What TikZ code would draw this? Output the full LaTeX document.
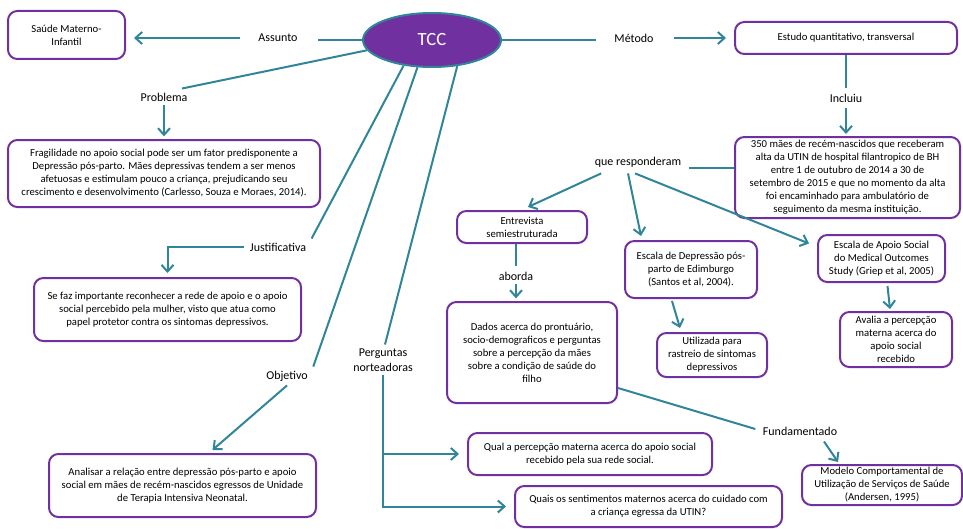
\documentclass[tikz,border=0pt]{standalone}
\usepackage{fontspec}
\setmainfont{Carlito}
\usetikzlibrary{arrows.meta,calc,shapes.geometric}
\definecolor{teal5}{RGB}{49,133,155}
\definecolor{purp}{RGB}{112,48,160}
\begin{document}
\begin{tikzpicture}[x=0.75pt,y=-0.75pt,
  box/.style={draw=purp, line width=1.5pt, rounded corners=7pt, fill=white, align=center, inner sep=0pt, font=\fontsize{8}{9.75}\selectfont},
  wh/.style 2 args={minimum width=#1*0.75pt, minimum height=#2*0.75pt},
  lbl/.style={align=center, inner xsep=4pt, inner ysep=3pt, font=\fontsize{9}{11}\selectfont},
  conn/.style={draw=teal5, line width=1.5pt},
  arr/.style={conn, -{Straight Barb[length=5pt,width=9pt]}},
]
\useasboundingbox (0,0) rectangle (963,528);

% centre
\node[ellipse, fill=purp, draw=teal5, line width=1.5pt, minimum width=138*0.75pt, minimum height=54*0.75pt, text=white, font=\fontsize{14}{16}\selectfont] (tcc) at (432,40) {TCC};

% boxes
\node[box, wh={117}{48}] (saude) at (66.5,35) {Saúde Materno-\\Infantil};
\node[box, wh={222}{32}] (estudo) at (846,38) {Estudo quantitativo, transversal};
\node[box, wh={225}{81}] (maes) at (847.5,177.5) {350 mães de recém-nascidos que receberam\\alta da UTIN de hospital filantropico de BH\\entre 1 de outubro de 2014 a 30 de\\setembro de 2015 e que no momento da alta\\foi encaminhado para ambulatório de\\seguimento da mesma instituição.};
\node[box, wh={312}{67}] (frag) at (164,173.5) {Fragilidade no apoio social pode ser um fator predisponente a\\Depressão pós-parto. Mães depressivas tendem a ser menos\\afetuosas e estimulam pouco a criança, prejudicando seu\\crescimento e desenvolvimento (Carlesso, Souza e Moraes, 2014).};
\node[box, wh={267}{63}] (sefaz) at (167.5,309.5) {Se faz importante reconhecer a rede de apoio e o apoio\\social percebido pela mulher, visto que atua como\\papel protetor contra os sintomas depressivos.};
\node[box, wh={267}{63}] (analisar) at (182.5,485.5) {Analisar a relação entre depressão pós-parto e apoio\\social em mães de recém-nascidos egressos de Unidade\\de Terapia Intensiva Neonatal.};
\node[box, wh={130}{32}] (entrevista) at (522,227) {Entrevista\\semiestruturada};
\node[box, wh={170}{101}] (dados) at (532,352.5) {Dados acerca do prontuário,\\socio-demograficos e perguntas\\sobre a percepção da mães\\sobre a condição de saúde do\\filho};
\node[box, wh={132}{57}] (escdep) at (691,269.5) {Escala de Depressão pós-\\parto de Edimburgo\\(Santos et al, 2004).};
\node[box, wh={110}{44}] (utiliz) at (712,355) {Utilizada para\\rastreio de sintomas\\depressivos};
\node[box, wh={127}{47}] (escapoio) at (881.5,258.5) {Escala de Apoio Social\\do Medical Outcomes\\Study (Griep et al, 2005)};
\node[box, wh={112}{55}] (avalia) at (896,339.5) {Avalia a percepção\\materna acerca do\\apoio social\\recebido};
\node[box, wh={244}{42}] (qual) at (590,454) {Qual a percepção materna acerca do apoio social\\recebido pela sua rede social.};
\node[box, wh={267}{41}] (quais) at (648.5,506.5) {Quais os sentimentos maternos acerca do cuidado com\\a criança egressa da UTIN?};
\node[box, wh={160}{40}] (modelo) at (882,485) {Modelo Comportamental de\\Utilização de Serviços de Saúde\\(Andersen, 1995)};

% labels
\node[lbl] (assunto) at (278,38) {Assunto};
\node[lbl] (metodo) at (634,38) {Método};
\node[lbl] (incluiu) at (846,98) {Incluiu};
\node[lbl] (resp) at (638,162) {que responderam};
\node[lbl] (problema) at (164,97) {Problema};
\node[lbl] (justif) at (278,247) {Justificativa};
\node[lbl] (objetivo) at (287,376) {Objetivo};
\node[lbl] (perg) at (383,360) {Perguntas\\norteadoras};
\node[lbl] (aborda) at (516,276) {aborda};
\node[lbl] (fund) at (800,431) {Fundamentado};

% connectors
\draw[conn, shorten >=11pt] (tcc.west) -- (tcc.west -| assunto.east);
\draw[arr, shorten <=10pt, shorten >=6pt] (assunto.west) -- (assunto.west -| saude.east);
\draw[conn, shorten >=10pt] (tcc.east) -- (tcc.east -| metodo.west);
\draw[arr, shorten <=11pt, shorten >=6pt] (metodo.east) -- (metodo.east -| estudo.west);
\draw[conn, shorten >=1.5pt] (estudo.south) -- (incluiu.north);
\draw[arr, shorten <=1.5pt, shorten >=1.5pt] (incluiu.south) -- (incluiu.south |- maes.north);
\draw[conn] ($(resp.east)+(2,6)$) -- ($(resp.east -| maes.west)+(0,6)$);
\draw[arr] ($(resp.south west)+(12,2)$) -- ($(entrevista.north)+(6,-3)$);
\draw[arr] ($(resp.south)+(-10,2)$) -- ($(escdep.north)+(-50,-4)$);
\draw[arr] ($(resp.south)+(-3,2)$) -- ($(escapoio.west)+(-8,-15)$);

\draw[conn] (tcc.189) -- ($(problema.north)+(18,0)$);
\draw[arr, shorten >=2pt] (problema.south) -- (problema.south |- frag.north);
\draw[conn] (tcc.222) -- (justif.north east);
\draw[arr, shorten >=3pt] (justif.west) -| (sefaz.north);
\draw[conn] (tcc.242) -- (objetivo.north east);
\draw[arr] (objetivo.south) -- ($(analisar.north)+(30,-3)$);
\draw[conn] (tcc.314) -- ($(perg.north)+(2,0)$);
\draw[arr, shorten >=6pt] (perg.south) |- (quais.west);
\draw[arr, shorten >=6pt] (perg.south |- qual.west) -- (qual.west);

\draw[conn, shorten >=1.5pt] (entrevista.south -| aborda) -- (aborda.north);
\draw[arr, shorten >=2pt] (aborda.south) -- (aborda.south |- dados.north);
\draw[conn] ($(dados.south east)+(0,-16)$) -- ($(fund.west)+(-2,-2)$);
\draw[arr] ($(fund.south)+(24,2)$) -- ($(modelo.north)+(-44,-2)$);
\draw[arr] ($(escdep.south)+(-19,2)$) -- ($(utiliz.north)+(-32,-4)$);
\draw[arr] ($(escapoio.south)+(6,3)$) -- ($(avalia.north)+(-6,-2)$);
\end{tikzpicture}
\end{document}
